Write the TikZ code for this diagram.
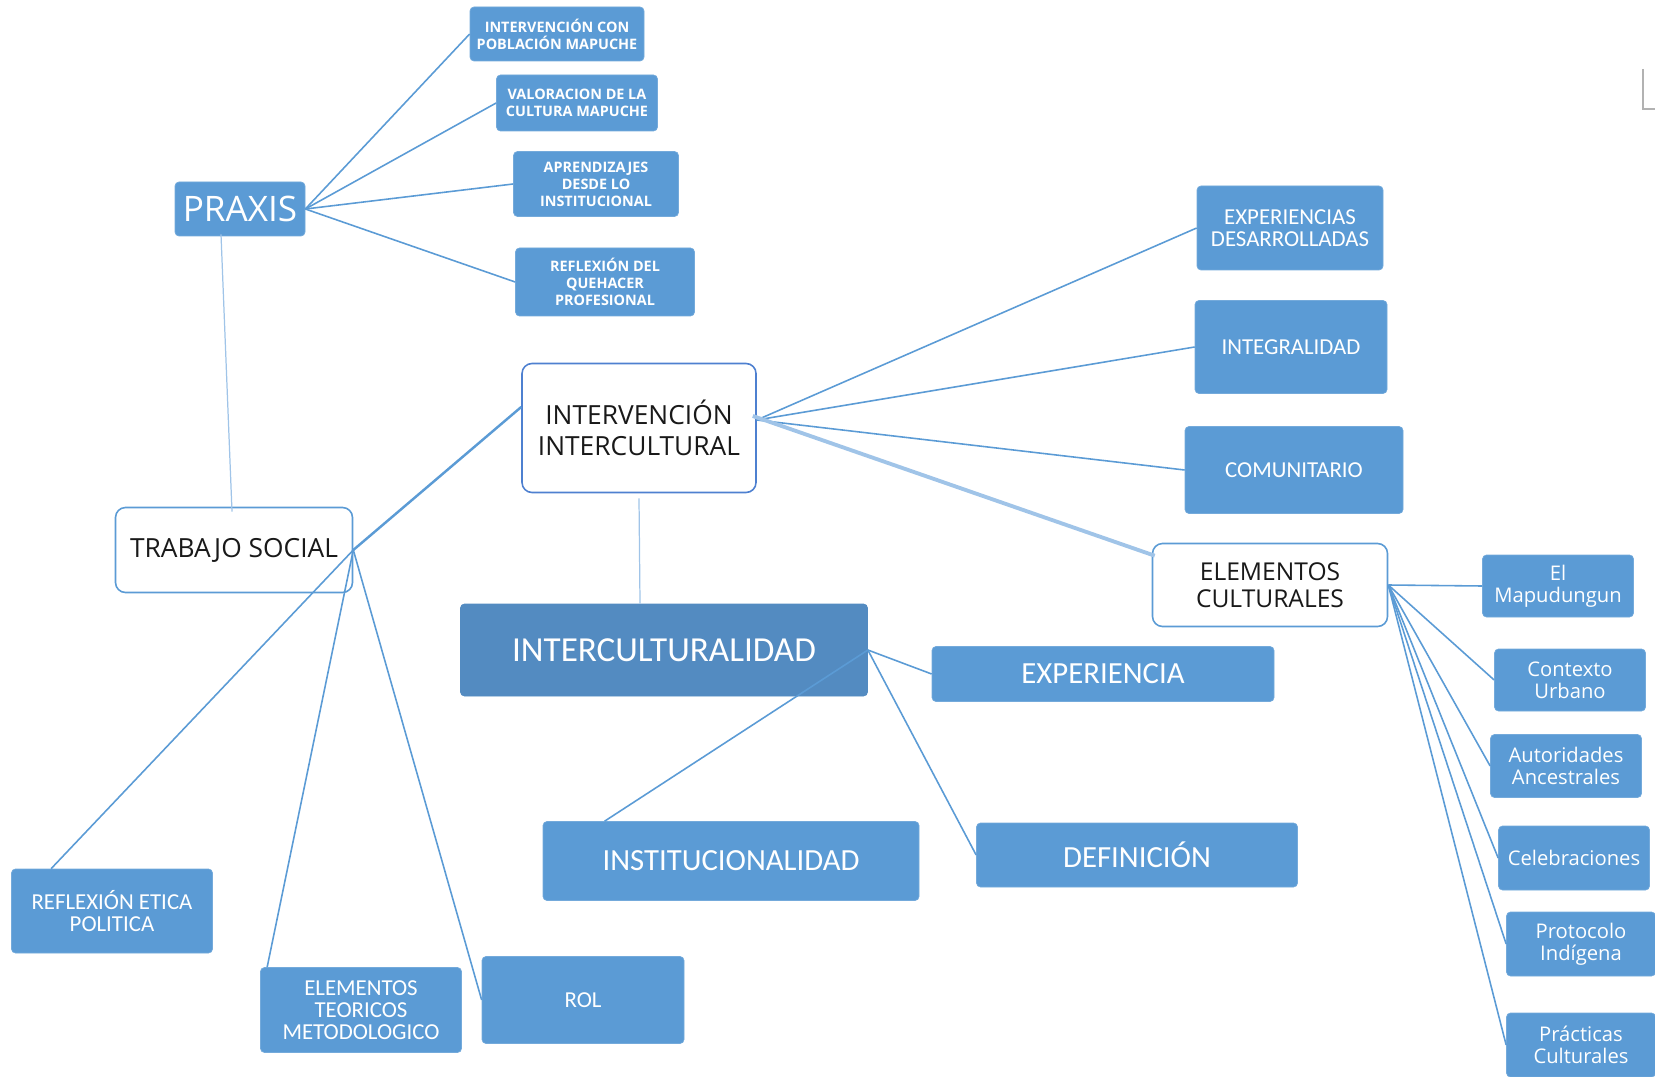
\documentclass[tikz,border=0pt]{standalone}
\usepackage{fontspec}
\setmainfont{Carlito}
\newfontfamily\osans{Open Sans}
\usetikzlibrary{calc}
\definecolor{boxblue}{RGB}{91,155,213}
\definecolor{deepblue}{RGB}{83,139,193}
\definecolor{linkblue}{RGB}{91,155,213}
\definecolor{palelink}{RGB}{160,196,232}
\definecolor{rimblue}{RGB}{78,128,208}

\begin{document}
\begin{tikzpicture}[x=0.02cm,y=-0.02cm,
  sz/.style 2 args={minimum width=#1*0.02cm,minimum height=#2*0.02cm,inner sep=0pt},
  bluebox/.style={fill=boxblue,draw=boxblue!85!white,rounded corners=0.08cm,text=white,align=center},
  whitebox/.style={fill=white,draw=rimblue,line width=0.9pt,rounded corners=0.2cm,text=black!90,align=center},
  minilabel/.style={font=\osans\bfseries\fontsize{8.2}{9.6}\selectfont},
  midlabel/.style={font=\fontsize{13}{12.5}\selectfont},
  biglabel/.style={font=\fontsize{17.5}{20}\selectfont},
  sidelabel/.style={font=\osans\fontsize{11.5}{12.5}\selectfont},
  link/.style={draw=linkblue,line width=0.9pt},
  faint/.style={draw=palelink,line width=0.7pt}]
\useasboundingbox (0,0) rectangle (1655,1077);

\node[bluebox,sz={130}{54},font=\osans\fontsize{20}{24}\selectfont] (praxis) at (240,209) {PRAXIS};
\node[bluebox,sz={174}{54},minilabel] (intcon) at (557,34) {INTERVENCIÓN CON\\POBLACIÓN MAPUCHE};
\node[bluebox,sz={161}{56},minilabel] (valor) at (577,103) {VALORACION DE LA\\CULTURA MAPUCHE};
\node[bluebox,sz={165}{65},minilabel] (aprend) at (596,184) {APRENDIZAJES\\DESDE LO\\INSTITUCIONAL};
\node[bluebox,sz={179}{68},minilabel] (reflex) at (605,282) {REFLEXIÓN DEL\\QUEHACER\\PROFESIONAL};
\node[whitebox,sz={234}{129},font=\osans\fontsize{15}{17.3}\selectfont] (interv) at (639,428) {INTERVENCIÓN\\INTERCULTURAL};
\node[whitebox,sz={237}{85},draw=linkblue,font=\osans\fontsize{15}{17.3}\selectfont] (trabajo) at (234,550) {TRABAJO SOCIAL};
\node[bluebox,sz={186}{84},midlabel] (expdes) at (1290,228) {EXPERIENCIAS\\DESARROLLADAS};
\node[bluebox,sz={192}{93},midlabel] (integ) at (1291,347) {INTEGRALIDAD};
\node[bluebox,sz={218}{87},midlabel] (comun) at (1294,470) {COMUNITARIO};
\node[whitebox,sz={235}{83},draw=linkblue,font=\osans\fontsize{14}{15.5}\selectfont] (elemcult) at (1270,585) {ELEMENTOS\\CULTURALES};
\node[bluebox,sz={407}{92},fill=deepblue,draw=deepblue,font=\fontsize{20}{24}\selectfont] (intercult) at (664,650) {INTERCULTURALIDAD};
\node[bluebox,sz={342}{55},biglabel] (exper) at (1103,674) {EXPERIENCIA};
\node[bluebox,sz={376}{79},biglabel] (instit) at (731,861) {INSTITUCIONALIDAD};
\node[bluebox,sz={321}{64},biglabel] (defin) at (1137,855) {DEFINICIÓN};
\node[bluebox,sz={201}{84},midlabel] (etica) at (112,911) {REFLEXIÓN ETICA\\POLITICA};
\node[bluebox,sz={201}{85},midlabel] (teoric) at (361,1010) {ELEMENTOS\\TEORICOS\\METODOLOGICO};
\node[bluebox,sz={202}{87},midlabel] (rol) at (583,1000) {ROL};
\node[bluebox,sz={151}{62},sidelabel] (mapu) at (1558,586) {El\\Mapudungun};
\node[bluebox,sz={151}{62},sidelabel] (urbano) at (1570,680) {Contexto\\Urbano};
\node[bluebox,sz={151}{63},sidelabel] (autor) at (1566,766) {Autoridades\\Ancestrales};
\node[bluebox,sz={151}{64},sidelabel] (celeb) at (1574,858) {Celebraciones};
\node[bluebox,sz={149}{64},sidelabel] (protoc) at (1581,944) {Protocolo\\Indígena};
\node[bluebox,sz={149}{64},sidelabel] (practic) at (1581,1045) {Prácticas\\Culturales};

\foreach \n in {intcon,valor,aprend,reflex}
    \draw[link] (praxis.east) -- (\n.west);
\draw[faint] ($(praxis.south)+(-19,-2)$) -- ($(trabajo.north)+(-2,5)$);
\draw[link,line width=1.4pt] (trabajo.east) -- ($(interv.west)+(0,-21)$);
\draw[link] (trabajo.east) -- ($(etica.north west)+(40,0)$);
\draw[link] (trabajo.east) -- ($(teoric.north west)+(7,0)$);
\draw[link] (trabajo.east) -- (rol.west);
\draw[faint] ($(interv.south)+(0,5)$) -- ($(intercult.north)+(-24,0)$);
\coordinate (hub) at ($(interv.east)+(0,-8)$);
\foreach \n in {expdes,integ,comun}
    \draw[link] (hub) -- (\n.west);
\draw[palelink,line width=2.2pt] ($(hub)+(-4,-4)$) -- ($(elemcult.north west)+(3,13)$);
\foreach \n in {exper,defin}
    \draw[link] (intercult.east) -- (\n.west);
\draw[link] (intercult.east) -- ($(instit.north west)+(62,0)$);
\foreach \n in {mapu,urbano,autor,celeb,protoc,practic}
    \draw[link] (elemcult.east) -- (\n.west);
\draw[gray!60,line width=0.7pt] (1643,69) -- (1643,109) -- (1655,109);
\end{tikzpicture}
\end{document}
